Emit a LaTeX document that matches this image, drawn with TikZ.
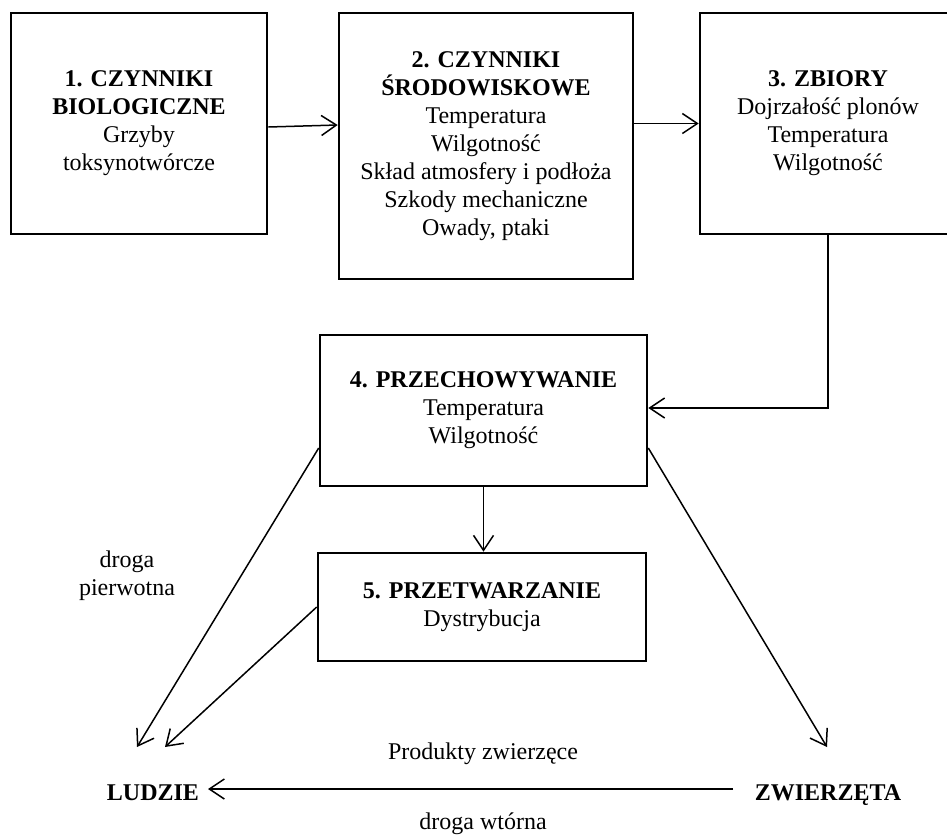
\documentclass[tikz,border=0pt]{standalone}
\usepackage{fontspec}
\setmainfont{Liberation Serif}
\usetikzlibrary{arrows.meta,calc}
\begin{document}
\begin{tikzpicture}[x=1pt,y=-1pt,
  every node/.style={font=\fontsize{24}{28}\selectfont, align=center},
  box/.style={draw, rectangle, line width=2.6pt, inner sep=0pt},
  conn/.style={line width=1.5pt},
  arr/.style={conn, -{Straight Barb[length=15pt,width=20pt]}},
  lbl/.style={inner sep=0pt, anchor=base}
]
\clip (0,0) rectangle (947,836);
\fill[white] (0,0) rectangle (947,836);

\node[box, minimum width=256pt, minimum height=221pt] (b1) at (139,123.5)
  {\textbf{1. CZYNNIKI}\\\textbf{BIOLOGICZNE}\\Grzyby\\toksynotwórcze};
\node[box, minimum width=294pt, minimum height=266pt] (b2) at (486,146)
  {\textbf{2. CZYNNIKI}\\\textbf{ŚRODOWISKOWE}\\Temperatura\\Wilgotność\\Skład atmosfery i podłoża\\Szkody mechaniczne\\Owady, ptaki};
\node[box, minimum width=256pt, minimum height=221pt] (b3) at (828,123.5)
  {\textbf{3. ZBIORY}\\Dojrzałość plonów\\Temperatura\\Wilgotność};
\node[box, minimum width=327pt, minimum height=151pt] (b4) at (483.5,410.5)
  {\textbf{4. PRZECHOWYWANIE}\\Temperatura\\Wilgotność};
\node[box, minimum width=328pt, minimum height=108pt] (b5) at (482,607)
  {\textbf{5. PRZETWARZANIE}\\Dystrybucja};

\node[lbl] (lu) at (153,800) {\textbf{LUDZIE}};
\node[lbl] (zw) at (828,800) {\textbf{ZWIERZĘTA}};
\node[lbl] (pz) at (483,759) {Produkty zwierzęce};
\node[lbl] (dw) at (483,829) {droga wtórna};
\node[inner sep=0pt] (dp) at (127,576) {droga\\pierwotna};

\coordinate (t1) at (137,747);
\coordinate (t2) at (165,747);
\coordinate (t3) at (827,747);
\coordinate (h1) at (733,789);
\coordinate (h2) at (208,789);

\draw[arr] ([yshift=-3.5pt]b1.east) -- ([yshift=21pt]b2.west);
\draw[arr] (b2.east |- b3.west) -- (b3.west);
\draw[arr] (b3.south) |- ([yshift=2.5pt]b4.east);
\draw[arr] (b4.south) -- (b4.south |- b5.north);
\draw[arr] ([yshift=-37.5pt]b4.west) -- (t1);
\draw[arr] (b5.west) -- (t2);
\draw[arr] ([yshift=-37.5pt]b4.east) -- (t3);
\draw[arr] (h1) -- (h2);
\end{tikzpicture}
\end{document}
